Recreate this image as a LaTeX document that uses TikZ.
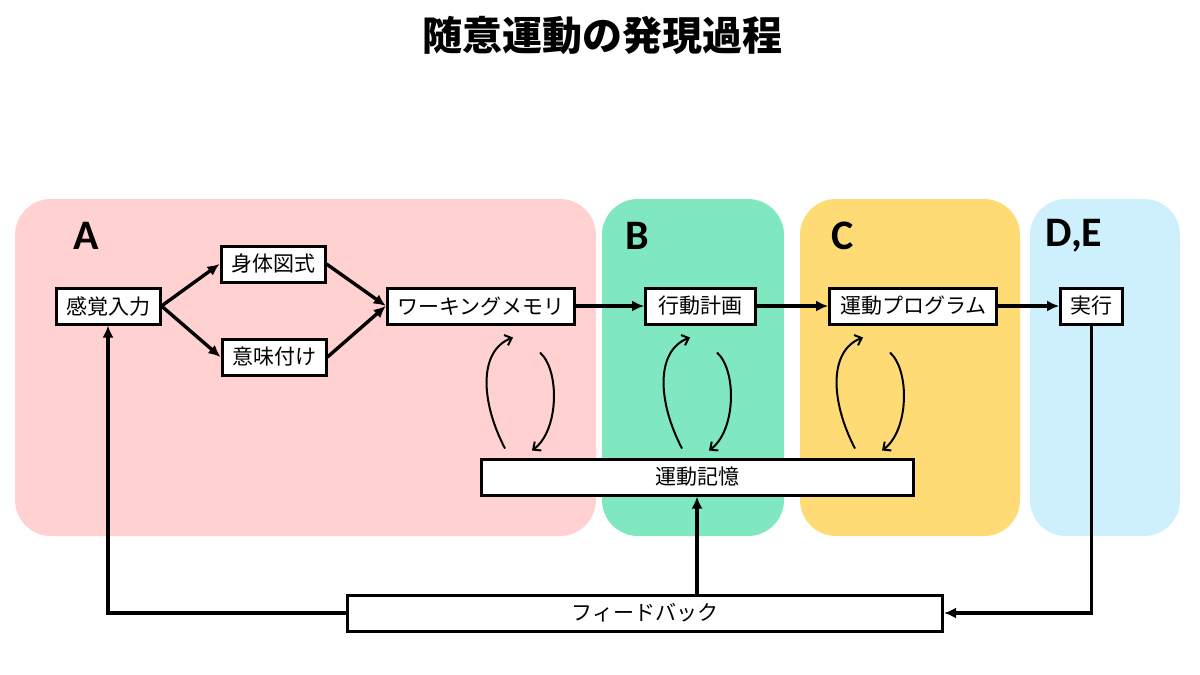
\documentclass[tikz,border=0pt]{standalone}
\usepackage{fontspec}
\setmainfont{Noto Sans CJK JP}
\newfontfamily\labelfont{Carlito}
\usetikzlibrary{positioning, calc, arrows.meta}
\definecolor{areaA}{RGB}{255,209,209}
\definecolor{areaB}{RGB}{128,232,192}
\definecolor{areaC}{RGB}{255,219,118}
\definecolor{areaD}{RGB}{206,240,252}

\begin{document}
\begin{tikzpicture}[
	x=1pt, y=-1pt,
	box/.style={rectangle, draw, line width=3pt, fill=white, inner xsep=10pt, inner ysep=0pt, minimum height=36pt, font=\fontsize{21}{25}\selectfont},
	area/.style={rounded corners=36pt},
	letter/.style={font=\labelfont\bfseries\fontsize{42}{46}\selectfont},
	hand/.style={line width=2pt, -{Straight Barb[length=6pt,width=11pt]}},
	flow/.style={line width=3.4pt, -{Latex[length=12pt,width=11pt]}},
	>=LaTeX
]

\useasboundingbox (0,0) rectangle (1200,675);

% coloured areas
\fill[areaA, area] (15,199) rectangle (596,536);
\fill[areaB, area] (602,199) rectangle (784,536);
\fill[areaC, area] (800,199) rectangle (1020,536);
\fill[areaD, area] (1030,199) rectangle (1180,536);

\node[font=\bfseries\fontsize{40}{44}\selectfont] (title) at (602,35) {随意運動の発現過程};

\node[letter] (label_a) at (86,236) {A};
\node[letter] (label_b) at (637,236) {B};
\node[letter] (label_c) at (843,236) {C};
\node[letter] (label_de) at (1074,236) {D,E};

\node[box] (sense) at (108,306) {感覚入力};
\node[box] (body) at (273,264) {身体図式};
\node[box] (meaning) at (274,357) {意味付け};
\node[box, minimum width=180pt] (wm) at (481,306) {ワーキングメモリ};
\node[box, minimum width=110pt, right=68pt of wm] (plan) {行動計画};
\node[box, minimum width=167pt, right=71pt of plan] (program) {運動プログラム};
\node[box, right=61pt of program] (exec) {実行};
\node[box, minimum width=432pt] (memory) at (697,477) {運動記憶};
\node[box, minimum width=595pt] (feedback) at (645,613) {フィードバック};

\draw[flow] (sense.east) -- (body.west);
\draw[flow] (sense.east) -- (meaning.west);
\draw[flow] (body.east) -- (wm.west);
\draw[flow] (meaning.east) -- (wm.west);
\draw[flow] (wm) -- (plan);
\draw[flow] (plan) -- (program);
\draw[flow] (program) -- (exec);

\draw[flow] (exec.south) |- (feedback.east);
\draw[flow] (feedback.west) -| (sense.south);
\draw[flow] (feedback.north -| memory.south) -- (memory.south);

% loops with the memory
\foreach \dx in {-177,0,173} {
	\draw[hand] ([xshift=\dx pt-15pt, yshift=9pt]memory.north) .. controls +(-25,-48) and +(-34,13) .. ([xshift=\dx pt-7pt, yshift=120pt]memory.north);
	\draw[hand] ([xshift=\dx pt+20pt, yshift=105pt]memory.north) .. controls +(20,18) and +(27,-20) .. ([xshift=\dx pt+12pt, yshift=7pt]memory.north);
}

\end{tikzpicture}
\end{document}
